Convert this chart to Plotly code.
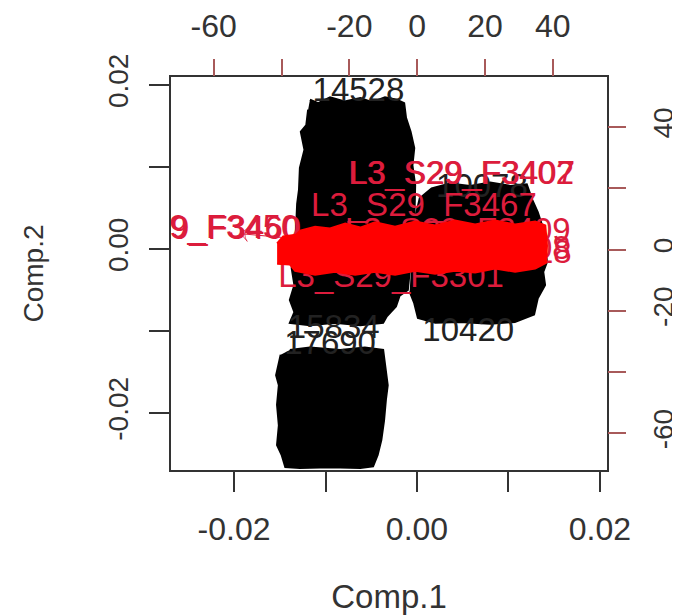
import plotly.graph_objects as go

# Comp.1 / Comp.2 scores: outlines of the three dense masses of overlapping labels
upper_x = [-.0117,-.0108,-.0095,-.0079,-.0062,-.0049,-.0035,-.0022,-.0014,-.0012,-.0007,-.0003,-.0005,-.0002,-.0003,-.0010,-.0019,-.0023,-.0033,-.0037,-.0062,-.0090,-.0117,-.0139,-.0134,-.0139,-.0134,-.0137,-.0133,-.0132,-.0131,-.0129,-.0128,-.0123,-.0127,-.0121,-.0119]
upper_y = [.0182,.0178,.0185,.0180,.0184,.0179,.0185,.0182,.0178,.0160,.0143,.0123,.0102,.0078,.0029,-.0050,-.0057,-.0070,-.0082,-.0090,-.0093,-.0090,-.0093,-.0090,-.0077,-.0062,-.0044,-.0023,.0005,.0033,.0055,.0072,.0099,.0121,.0143,.0151,.0170]
right_x = [-.0004,.0003,.0016,.0036,.0058,.0080,.0102,.0120,.0126,.0132,.0139,.0142,.0138,.0140,.0132,.0128,.0107,.0080,.0047,.0020,.0001,-.0003,-.0008]
right_y = [.0029,.0062,.0074,.0080,.0077,.0081,.0077,.0079,.0060,.0045,.0021,-.0016,-.0028,-.0044,-.0060,-.0080,-.0089,-.0091,-.0089,-.0090,-.0084,-.0066,-.0052]
lower_x = [-.0139,-.0117,-.0084,-.0057,-.0037,-.0035,-.0032,-.0034,-.0036,-.0039,-.0043,-.0048,-.0062,-.0095,-.0128,-.0144,-.0148,-.0153,-.0151,-.0153,-.0151,-.0154,-.0151,-.0149]
lower_y = [-.0123,-.0120,-.0123,-.0120,-.0123,-.0141,-.0166,-.0184,-.0209,-.0233,-.0251,-.0265,-.0267,-.0266,-.0267,-.0266,-.0251,-.0239,-.0215,-.0190,-.0166,-.0154,-.0141,-.0129]

obs_labels = ["14528", "10420", "15834", "17690", "10078"]
obs_x = [-.0064, .0056, -.0091, -.0095, .0071]
obs_y = [.0190, -.0102, -.0098, -.0118, .0074]

# Loadings on the top / right scales: outline of the dense red mass
band_x = [-41.3,-39.5,-35.7,-34.5,-30.1,-25.7,-21.2,-16.8,-12.4,-6.5,-0.6,5.3,11.2,17.1,23,28.9,34.8,37.8,38.3,38,34.8,28.9,23,17.1,11.2,5.3,-0.6,-6.5,-12.4,-18.3,-24.2,-30.1,-36,-37.5,-41.3]
band_y = [2,4.3,4.9,6.2,7.5,6.9,8.5,7.2,8.9,7.5,9.2,7.9,9.5,8.2,9.5,8.2,9.2,7.9,1.3,-4.3,-6.2,-7.2,-6.2,-7.5,-6.9,-7.9,-6.9,-8.2,-7.2,-8.2,-7.2,-8.2,-6.9,-4.9,-4.6]

var_labels = ["L3_S29_F3402","L3_S29_F3407","L3_S29_F3467","L3_S29_F3450","L3_S29_F3460","L3_S29_F3301","L3_S29_F3409","L3_S29_F3408","L3_S29_F3418"]
var_x = [13, 13.3, 2, -68, -67.5, -7.7, 12, 12, 12.3]
var_y = [24.3, 24.1, 13.8, 6.5, 6.2, -9.5, 5.6, -0.3, -1.6]

arrow_x = [-40, -52]
arrow_y = [4, 5.2]

xticks_bottom = [-.02, -.01, 0, .01, .02]
xticktext_bottom = ["-0.02", "", "0.00", "", "0.02"]
yticks_left = [-.02, -.01, 0, .01, .02]
yticktext_left = ["-0.02", "", "0.00", "", "0.02"]
xticks_top = [-60, -40, -20, 0, 20, 40]
xticktext_top = ["-60", "", "-20", "0", "20", "40"]
yticks_right = [-60, -40, -20, 0, 20, 40]
yticktext_right = ["-60", "", "-20", "0", "", "40"]

FONT = "Liberation Sans"
INK = "#333333"
BLACK = "#000000"
RED = "#ff0000"
RED_TEXT = "#dc1c3c"
RED_TICK = "#a85a5a"

fig = go.Figure()
for xs, ys in [(upper_x, upper_y), (right_x, right_y), (lower_x, lower_y)]:
    fig.add_trace(go.Scatter(x=xs, y=ys, mode="lines", fill="toself", fillcolor=BLACK,
                             line=dict(color=BLACK, width=2), hoverinfo="skip", showlegend=False))
fig.add_trace(go.Scatter(x=obs_x, y=obs_y, mode="text", text=obs_labels,
                         textfont=dict(family=FONT, size=33, color="#222222"),
                         textposition="middle center", showlegend=False))
fig.add_trace(go.Scatter(x=arrow_x, y=arrow_y, xaxis="x2", yaxis="y2", mode="lines+markers",
                         line=dict(color=RED_TEXT, width=1),
                         marker=dict(symbol=["circle-open", "arrow-wide-open"], size=[1, 10], angleref="previous",
                                     color=RED_TEXT, line=dict(color=RED_TEXT, width=1)),
                         showlegend=False))
fig.add_trace(go.Scatter(x=var_x, y=var_y, xaxis="x2", yaxis="y2", mode="text", text=var_labels,
                         textfont=dict(family=FONT, size=33, color=RED_TEXT),
                         textposition="middle center", showlegend=False))
fig.add_trace(go.Scatter(x=band_x, y=band_y, xaxis="x2", yaxis="y2", mode="lines", fill="toself",
                         fillcolor=RED, line=dict(color=RED, width=2), hoverinfo="skip", showlegend=False))

W, H = 672, 607
dom_x = [163/W, 599/W]
dom_y = [1-462/H, 1-69/H]
axis_common = dict(showgrid=False, zeroline=False, ticks="outside", tickmode="array", automargin=False)
fig.update_layout(
    width=W, height=H, margin=dict(l=0, r=0, t=0, b=0),
    paper_bgcolor="white", plot_bgcolor="white",
    font=dict(family=FONT, color=INK),
    showlegend=False,
    xaxis=dict(domain=dom_x, range=[-.02689, .02077], tickvals=xticks_bottom, ticktext=xticktext_bottom,
               ticklen=20, tickwidth=2, tickcolor=INK, showline=True, linewidth=2, linecolor=INK, mirror=True,
               tickfont=dict(size=32, color=INK), ticklabelstandoff=10, anchor="y",
               title=dict(text="Comp.1", font=dict(size=33, color=INK), standoff=46), **axis_common),
    yaxis=dict(domain=dom_y, range=[-.02695, .02098], tickvals=yticks_left, ticktext=yticktext_left,
               ticklen=20, tickwidth=2, tickcolor=INK, showline=True, linewidth=2, linecolor=INK, mirror=True,
               tickfont=dict(size=28, color=INK), tickangle=-90, ticklabelstandoff=10, anchor="x",
               title=dict(text="Comp.2", font=dict(size=28, color=INK), standoff=51), **axis_common),
    xaxis2=dict(domain=dom_x, range=[-72.6, 56], overlaying="x", side="top", anchor="y2",
                tickvals=xticks_top, ticktext=xticktext_top, ticklen=17, tickwidth=2, tickcolor=RED_TICK,
                tickfont=dict(size=32, color=INK), ticklabelstandoff=9, **axis_common),
    yaxis2=dict(domain=dom_y, range=[-72, 56.4], overlaying="y", side="right", anchor="x2",
                tickvals=yticks_right, ticktext=yticktext_right, ticklen=18, tickwidth=2, tickcolor=RED_TICK,
                tickfont=dict(size=28, color=INK), tickangle=-90, ticklabelstandoff=13, **axis_common),
)

fig.write_html("out.html")
